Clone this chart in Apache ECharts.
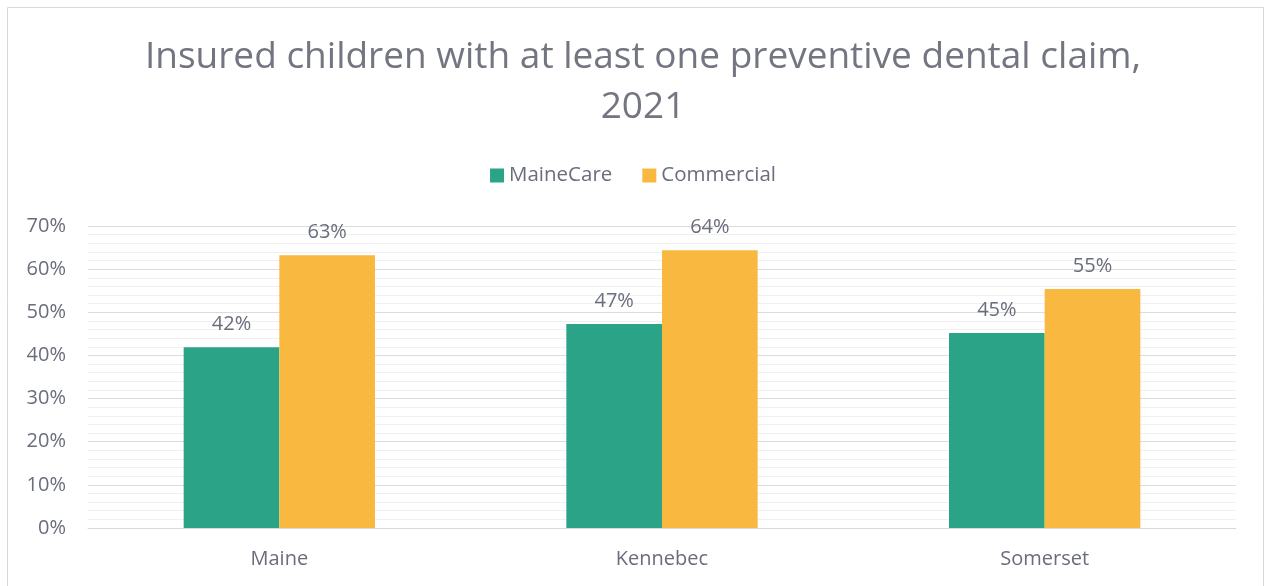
<!DOCTYPE html>
<html><head><meta charset="utf-8">
<script src="https://cdn.jsdelivr.net/npm/echarts@6/dist/echarts.min.js"></script>
<style>html,body{margin:0;padding:0;background:#fff}#c{width:1266px;height:586px}</style>
</head><body><div id="c"></div>
<script>
const categories = ['Maine', 'Kennebec', 'Somerset'];
const maineCare = [41.9, 47.3, 45.2];
const commercial = [63.2, 64.4, 55.4];
const seriesNames = ['MaineCare', 'Commercial'];
const txt = '#6a6d7c';
const font = '"Open Sans", "Noto Sans", sans-serif';
const chart = echarts.init(document.getElementById('c'));
chart.setOption({
  animation: false,
  textStyle: { fontFamily: font },
  graphic: [{ type: 'rect', shape: { x: 7.5, y: 7.5, width: 1256, height: 600 }, style: { fill: 'none', stroke: '#d9d9d9', lineWidth: 1 }, silent: true }],
  title: {
    text: 'Insured children with at least one preventive dental claim,\n2021',
    left: 638, textAlign: 'center', top: 27,
    textStyle: { fontFamily: font, fontSize: 37, fontWeight: 'normal', color: '#737580', lineHeight: 50 }
  },
  legend: {
    data: seriesNames, top: 160, left: 'center', itemWidth: 14, itemHeight: 14, itemGap: 30,
    icon: 'rect',
    textStyle: { fontFamily: font, fontSize: 20.5, color: txt }
  },
  grid: { left: 88, right: 30, top: 226, bottom: 58, containLabel: false },
  xAxis: {
    type: 'category', data: categories,
    axisLine: { lineStyle: { color: '#d9d9d9', width: 1 } },
    axisTick: { show: false },
    axisLabel: { fontFamily: font, fontSize: 20, color: txt, margin: 21 }
  },
  yAxis: {
    type: 'value', min: 0, max: 70, interval: 10,
    axisLabel: { fontFamily: font, fontSize: 20, color: txt, formatter: v => v + '%', margin: 22 },
    axisLine: { show: false }, axisTick: { show: false },
    splitLine: { lineStyle: { color: '#dcdcdc', width: 1 } },
    minorTick: { show: false, splitNumber: 5 },
    minorSplitLine: { show: true, lineStyle: { color: '#f0f0f0', width: 1 } }
  },
  series: [
    { name: seriesNames[0], type: 'bar', data: maineCare, barGap: '0%', barCategoryGap: '50%',
      itemStyle: { color: '#2ba386' },
      label: { show: true, position: 'top', distance: 13, fontFamily: font, fontSize: 20, color: txt, formatter: p => Math.round(p.value) + '%' } },
    { name: seriesNames[1], type: 'bar', data: commercial,
      itemStyle: { color: '#f9b840' },
      label: { show: true, position: 'top', distance: 13, fontFamily: font, fontSize: 20, color: txt, formatter: p => Math.round(p.value) + '%' } }
  ]
});
</script></body></html>
